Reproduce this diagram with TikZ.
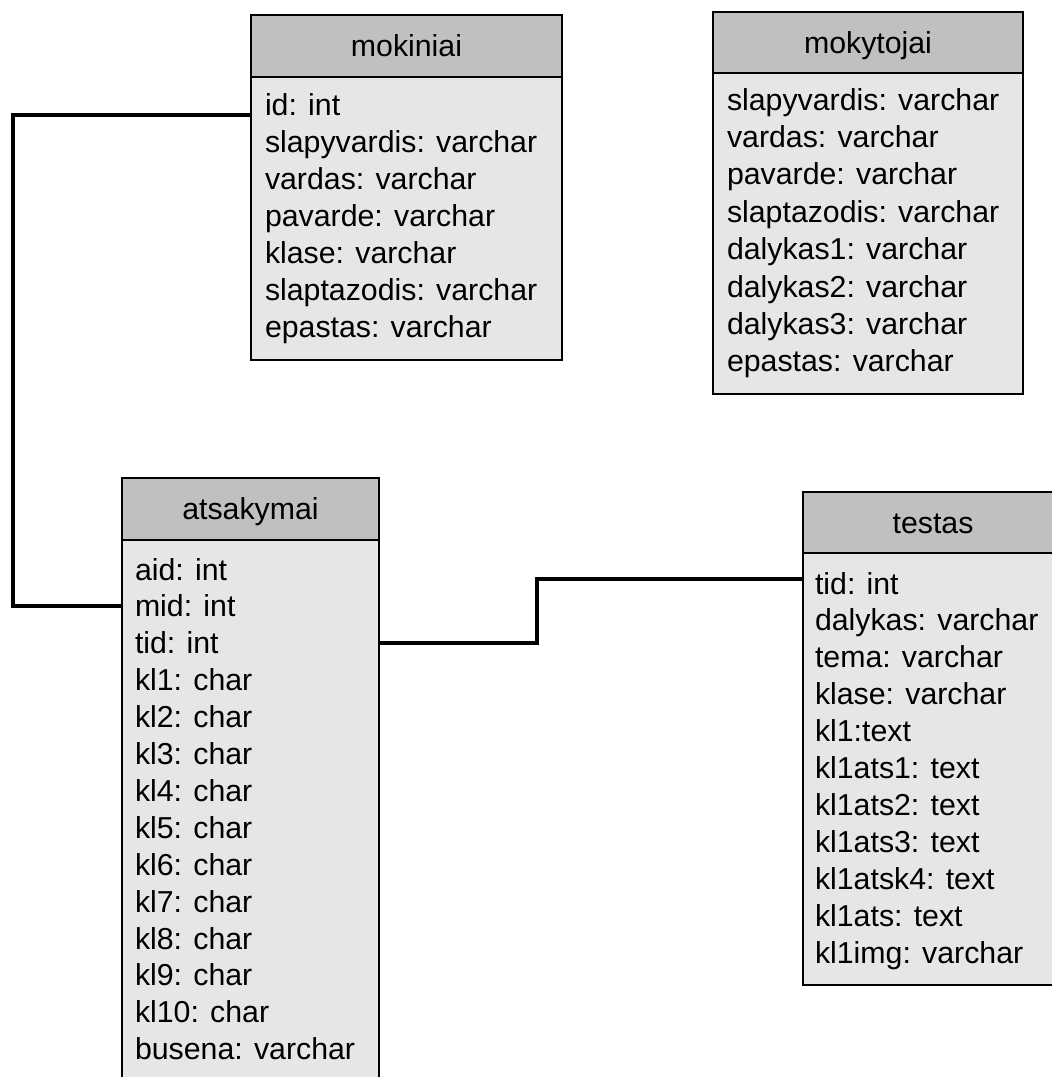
\documentclass[tikz,border=0pt]{standalone}
\usepackage{fontspec}
\setmainfont{Liberation Sans}
\definecolor{hdrgray}{HTML}{C0C0C0}
\definecolor{bodygray}{HTML}{E6E6E6}
\begin{document}
\begin{tikzpicture}[x=1pt,y=-1pt,
  every node/.style={font=\fontsize{30.3pt}{36pt}\selectfont},
  tbl/.style={draw, line width=2.3pt, inner sep=0pt, outer sep=0pt, anchor=north west},
  hdrbox/.style={tbl, fill=hdrgray, text height=21.5pt, text depth=0pt},
  bodybox/.style={tbl, fill=bodygray},
  field/.style={inner sep=0pt, outer sep=0pt, anchor=base west},
  link/.style={line width=3.3pt}]
\useasboundingbox (0,0) rectangle (1052,1077);
\clip (0,0) rectangle (1052,1077);

% table: mokiniai
\node[hdrbox, minimum width=311, minimum height=62] (mokiniai) at (251,15) {mokiniai};
\node[bodybox, minimum width=311, minimum height=283] (mokiniai-body) at (mokiniai.south west) {};
\foreach \t [count=\i] in {id: int, slapyvardis: varchar, vardas: varchar, pavarde: varchar,
    klase: varchar, slaptazodis: varchar, epastas: varchar}
  \node[field] (mk-\i) at (265,{115+37.1*(\i-1)}) {\t};

% table: mokytojai
\node[hdrbox, minimum width=310, minimum height=61] (mokytojai) at (713,12) {mokytojai};
\node[bodybox, minimum width=310, minimum height=321] (mokytojai-body) at (mokytojai.south west) {};
\foreach \t [count=\i] in {slapyvardis: varchar, vardas: varchar, pavarde: varchar,
    slaptazodis: varchar, dalykas1: varchar, dalykas2: varchar, dalykas3: varchar, epastas: varchar}
  \node[field] (mt-\i) at (727,{110+37.4*(\i-1)}) {\t};

% table: atsakymai
\node[hdrbox, minimum width=257, minimum height=62] (atsakymai) at (122,478) {atsakymai};
\node[bodybox, minimum width=257, minimum height=560] (atsakymai-body) at (atsakymai.south west) {};
\foreach \t [count=\i] in {aid: int, mid: int, tid: int, kl1: char, kl2: char, kl3: char,
    kl4: char, kl5: char, kl6: char, kl7: char, kl8: char, kl9: char, kl10: char, busena: varchar}
  \node[field] (at-\i) at (135,{580+36.9*(\i-1)}) {\t};

% table: testas
\node[hdrbox, minimum width=260, minimum height=61] (testas) at (803,492) {testas};
\node[bodybox, minimum width=260, minimum height=432] (testas-body) at (testas.south west) {};
\foreach \t [count=\i] in {tid: int, dalykas: varchar, tema: varchar, klase: varchar, kl1:text,
    kl1ats1: text, kl1ats2: text, kl1ats3: text, kl1atsk4: text, kl1ats: text, kl1img: varchar}
  \node[field] (ts-\i) at (815,{594+36.9*(\i-1)}) {\t};

% relations
\coordinate (xl) at (13,0);
\coordinate (xm) at (537,0);
\coordinate (c1) at (mokiniai-body.west |- mk-1.base);
\coordinate (c2) at (atsakymai-body.west |- at-2);
\coordinate (c3) at (atsakymai-body.east |- at-3);
\coordinate (c4) at (testas-body.west |- ts-1.north);
\draw[link] (c1) -- (c1 -| xl) -- (c2 -| xl) -- (c2);
\draw[link] (c3) -- (c3 -| xm) -- ([yshift=-7pt]c4 -| xm) -- ([yshift=-7pt]c4);
\end{tikzpicture}
\end{document}
